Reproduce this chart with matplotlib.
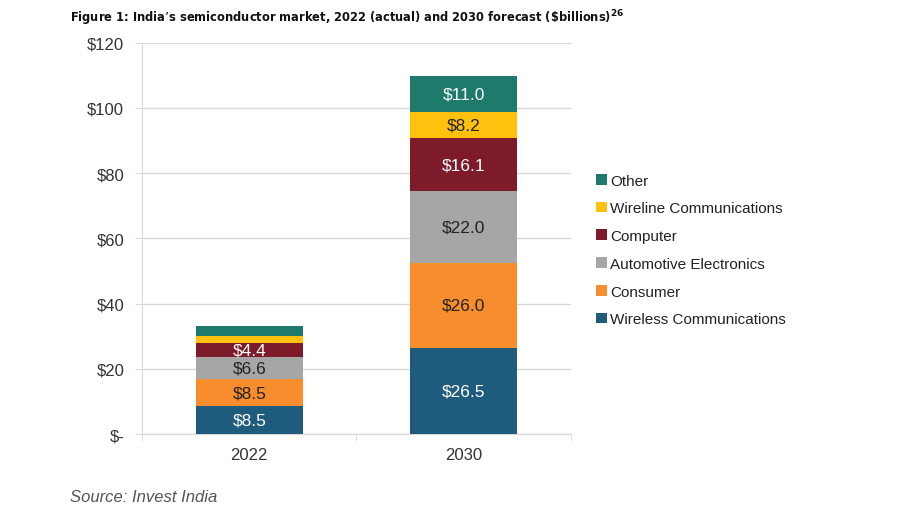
import numpy as np
import matplotlib.pyplot as plt
from matplotlib.patches import Patch

plt.rcParams['font.family'] = ['Liberation Sans', 'DejaVu Sans']

years = ['2022', '2030']
segments = ['Wireless Communications', 'Consumer', 'Automotive Electronics',
            'Computer', 'Wireline Communications', 'Other']
values = {
    'Wireless Communications': [8.5, 26.5],
    'Consumer': [8.5, 26.0],
    'Automotive Electronics': [6.6, 22.0],
    'Computer': [4.4, 16.1],
    'Wireline Communications': [2.1, 8.2],
    'Other': [3.1, 11.0],
}
# which segments carry a value label in each bar
show_label = {
    'Wireless Communications': [True, True],
    'Consumer': [True, True],
    'Automotive Electronics': [True, True],
    'Computer': [True, True],
    'Wireline Communications': [False, True],
    'Other': [False, True],
}
colors = {
    'Wireless Communications': '#1f5b7c',
    'Consumer': '#f78d2c',
    'Automotive Electronics': '#a6a6a6',
    'Computer': '#7e1b2b',
    'Wireline Communications': '#ffc10e',
    'Other': '#1e7b6b',
}
text_colors = {
    'Wireless Communications': 'white',
    'Consumer': '#222222',
    'Automotive Electronics': '#222222',
    'Computer': 'white',
    'Wireline Communications': '#222222',
    'Other': 'white',
}
yticks = [0, 20, 40, 60, 80, 100, 120]
ytick_labels = ['$-', '$20', '$40', '$60', '$80', '$100', '$120']

fig = plt.figure(figsize=(9, 5.06), dpi=100)
ax = fig.add_axes([0.158, 0.140, 0.476, 0.774])

x = np.arange(len(years))
bottom = np.zeros(len(years))
for seg in segments:
    v = np.array(values[seg])
    ax.bar(x, v, 0.5, bottom=bottom, color=colors[seg], zorder=3)
    for i in range(len(years)):
        if show_label[seg][i]:
            ax.text(x[i], bottom[i] + v[i] / 2, '$%.1f' % v[i], ha='center', va='center',
                    fontsize=12.5, color=text_colors[seg], zorder=4)
    bottom += v

ax.set_xlim(-0.5, 1.5)
ax.set_ylim(0, 120)
ax.set_yticks(yticks)
ax.set_yticklabels(ytick_labels, fontsize=12, color='#333333')
ax.set_xticks(x)
ax.set_xticklabels(years, fontsize=12, color='#333333')
ax.set_xticks([-0.5, 0.5, 1.5], minor=True)
ax.tick_params(axis='x', which='major', length=0, pad=9)
ax.tick_params(axis='x', which='minor', length=5, color='#d9d9d9', direction='out')
ax.tick_params(axis='y', length=5, color='#d9d9d9', pad=8)
ax.grid(axis='y', color='#d9d9d9', linewidth=1, zorder=0)
for s in ['top', 'right']:
    ax.spines[s].set_visible(False)
for s in ['left', 'bottom']:
    ax.spines[s].set_color('#d9d9d9')

handles = [Patch(facecolor=colors[s], label=s) for s in segments[::-1]]
fig.legend(handles=handles, loc='upper left', bbox_to_anchor=(0.647, 0.682), frameon=False,
           fontsize=11, handlelength=0.7, handleheight=0.7, handletextpad=0.2,
           labelspacing=0.9, labelcolor='#222222')

fig.text(0.078, 0.964, 'Figure 1: India\u2019s semiconductor market, 2022 (actual) and 2030 forecast (\\$billions)$^{\\mathbf{26}}$',
         family=['Liberation Sans Narrow', 'DejaVu Sans'], fontstretch='condensed', fontweight='bold',
         fontsize=9.2, color='#111111', va='center')
fig.text(0.078, 0.016, 'Source: Invest India', fontsize=12, style='italic', color='#555555', va='center')

fig.savefig('out.png', dpi=100)
